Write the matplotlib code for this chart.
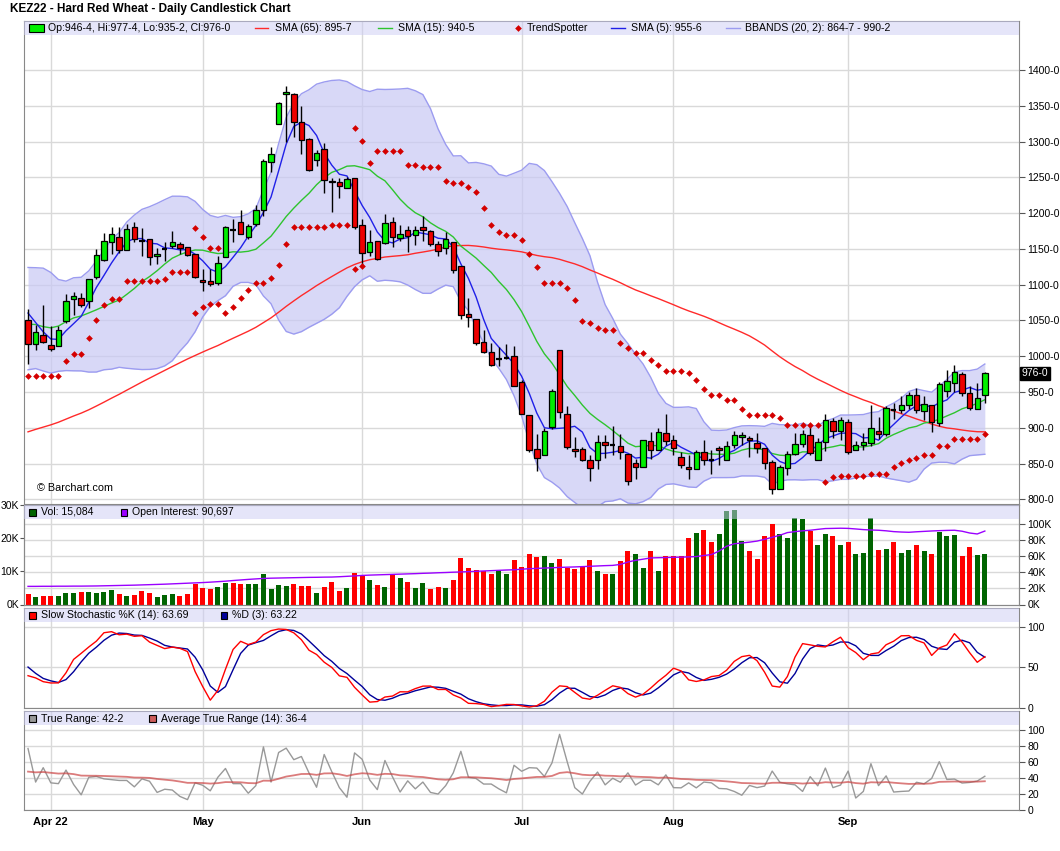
import numpy as np
import pandas as pd
import matplotlib
matplotlib.use("Agg")
import matplotlib.pyplot as plt
from matplotlib.patches import Rectangle
from matplotlib.lines import Line2D
import matplotlib.transforms as mtransforms

plt.rcParams['font.family'] = ['Liberation Sans', 'DejaVu Sans']

# trading days shown (KEZ22, Mar 29 - Sep 28 2022)
holidays = ['2022-04-15', '2022-05-30', '2022-06-20', '2022-07-04', '2022-09-05']
dates = pd.bdate_range('2022-03-29', '2022-09-28', freq='C', holidays=holidays)

open_ = [1051, 1017, 1030, 1016, 1015, 1049, 1080, 1081, 1077, 1111,
         1134, 1160, 1166, 1148, 1180, 1161, 1164, 1140, 1150, 1154,
         1157, 1153, 1143, 1107, 1105, 1102, 1139, 1176, 1187, 1167,
         1185, 1204, 1271.5, 1324.5, 1366.5, 1366, 1327, 1303, 1274, 1289.5,
         1245.5, 1243, 1235, 1249, 1183, 1145, 1160.5, 1158, 1187, 1165,
         1176, 1169.5, 1180.5, 1175.5, 1156.5, 1151, 1159.5, 1125.5, 1059, 1052,
         1020, 1006, 996.5, 998, 1000, 963.5, 918, 870.5, 861.5, 901,
         1008.75, 919.5, 870.5, 870.5, 855, 854.5, 880, 875.75, 874.5, 863.75,
         851, 845.5, 881.5, 868.5, 893, 882.75, 859, 845.5, 842.75, 866,
         854.5, 872, 855.75, 875.75, 887.5, 886, 879, 872, 852.5, 814,
         844.25, 863.75, 877.75, 890.25, 855.75, 880.5, 909.25, 896.25, 908, 868.5,
         875.75, 879, 895.25, 891.5, 925, 925.5, 932.5, 946, 923.75, 931.5,
         907, 952, 962.75, 975.25, 948.75, 926.5, 946.5]
high = [1066, 1044, 1071, 1042, 1043, 1087, 1090, 1088, 1108, 1150,
        1172, 1181, 1181, 1185, 1188, 1179, 1164, 1151, 1159, 1175,
        1160, 1153, 1143, 1122, 1122, 1140, 1182, 1192, 1204, 1185,
        1212, 1275, 1293, 1355, 1377.5, 1367.5, 1350, 1305, 1288.5, 1297.5,
        1249, 1249, 1251, 1249, 1191.5, 1177, 1160.5, 1198.5, 1194, 1183,
        1181.5, 1181.5, 1195.5, 1176.5, 1160.5, 1174, 1159.5, 1125.5, 1081.5, 1052,
        1037, 1018.5, 1012.5, 1017.5, 1014, 967.5, 918, 892, 900, 954.5,
        1008.75, 931, 887.5, 873.5, 861.5, 890.5, 889.5, 902.5, 891.5, 863.75,
        856.75, 882.75, 894, 900, 919.5, 890.75, 866, 862.75, 869.75, 883.75,
        869.75, 874.5, 882.25, 895.25, 894, 888.5, 893, 872, 855.75, 848.75,
        867.5, 893, 896.75, 904.5, 886, 920, 914, 915, 912.5, 881.5,
        893, 932.5, 915.25, 931.25, 935, 944.25, 950.25, 955.75, 944.25, 931.5,
        963.75, 981.5, 988.5, 978, 959, 962.75, 977.5]
low = [989, 1009, 1018, 1008, 1014, 1047, 1058, 1069, 1067, 1108,
       1133, 1143, 1144, 1148, 1159, 1140, 1128, 1129, 1133, 1151,
       1143, 1140, 1109, 1091, 1098, 1099, 1139, 1159, 1171, 1164,
       1182, 1196, 1258, 1324.5, 1300, 1306, 1283, 1258.5, 1266, 1228,
       1201, 1221, 1235, 1177.5, 1128, 1139.5, 1135, 1157.5, 1152.5, 1160.5,
       1145, 1155, 1160.5, 1154.5, 1140.5, 1143.5, 1117, 1052, 1040.5, 1015.5,
       1004.5, 986, 986, 996, 958, 919, 866, 839.5, 861.5, 898.5,
       914, 870.5, 859.5, 853.5, 825.5, 843, 858, 862.75, 856.75, 820,
       828, 845.5, 856.75, 868.5, 875.5, 862.75, 844.25, 828.75, 842.75, 848.75,
       835.75, 847.5, 855.75, 872, 875.5, 859.5, 865, 842, 807, 814,
       834.75, 861.5, 873.5, 862.75, 855.75, 867.5, 886, 883.75, 863.75, 868.5,
       869.75, 874.5, 884.75, 888.5, 912.5, 921, 926.5, 921, 911.5, 894,
       903.25, 943.25, 949.75, 944.25, 924.5, 926.5, 935.25]
close = [1017, 1034, 1020, 1010, 1037, 1077, 1084, 1071, 1108, 1141,
         1161, 1171, 1148, 1178, 1164, 1161, 1139, 1143, 1150, 1160,
         1151, 1141, 1111, 1104, 1101, 1130, 1180.5, 1176, 1171, 1181.5,
         1204, 1272.5, 1283, 1353.5, 1369, 1327, 1302, 1260, 1284, 1246,
         1243, 1238.5, 1248, 1180, 1144, 1159, 1136.5, 1186, 1166.5, 1171,
         1168.5, 1176, 1176.5, 1156.5, 1147, 1163.5, 1120.5, 1057.5, 1055, 1018.5,
         1006, 988, 996.5, 998, 959, 919, 869.5, 858, 895.5, 952,
         922.25, 873.5, 868, 855, 844, 880, 875.5, 875.75, 866.5, 825.5,
         845.5, 882.75, 868.5, 894, 881.5, 872, 848.75, 842, 866, 854.5,
         854.5, 869.75, 874.5, 889.75, 890.25, 882.75, 872, 851, 814, 845.5,
         863.75, 877.75, 891.5, 865, 880, 910.75, 896.25, 910.75, 866.5, 875.75,
         880.5, 900, 891.5, 927.5, 925, 931.5, 946, 925.5, 933.5, 908.75,
         961.5, 966, 978, 948.75, 928, 942.25, 976]

# closes before the window (Dec-Mar), estimated so the indicators start where the chart does
prior_close = [810, 815, 805, 800, 795, 800, 810, 805, 800, 810, 805,
               800, 805, 795, 790, 785, 790, 800, 810, 805, 800, 795, 790, 800,
               840, 845, 850, 855, 860, 850, 845, 850, 845,
               835, 830, 820, 815, 825, 830, 835, 840,
               860, 870, 900,
               970, 1020, 1060, 1100, 1110, 1090, 1040, 1065, 1035, 1000,
               985, 1005, 1030, 1045, 1075, 1090, 1100, 1085, 1060, 1040]
prior_high = [985, 1030, 1070, 1110, 1140, 1150, 1090, 1080, 1070, 1040,
              1010, 1015, 1040, 1055, 1085, 1100, 1120, 1100, 1090, 1065]
prior_low = [930, 975, 1020, 1060, 1085, 1080, 1035, 1025, 1030, 995,
             978, 982, 998, 1020, 1040, 1065, 1080, 1072, 1050, 1032]

volume_k = [3.1, 2.2, 2.5, 2.5, 2.5, 3.4, 3.4, 3.7, 3.7, 3.4,
            3.7, 4.3, 3.1, 2.5, 2.8, 4.0, 3.4, 2.2, 2.8, 3.1,
            2.5, 3.1, 6.1, 4.9, 4.6, 5.2, 6.4, 6.4, 6.1, 6.1,
            6.1, 9.1, 4.6, 5.8, 5.5, 6.1, 5.5, 5.5, 3.4, 5.2,
            6.7, 4.0, 4.9, 9.4, 8.8, 7.3, 5.8, 5.2, 9.1, 7.9,
            6.7, 4.9, 6.4, 4.6, 5.2, 4.9, 7.3, 13.9, 10.9, 10.3,
            10.0, 9.1, 10.0, 9.1, 13.4, 11.4, 15.3, 14.2, 14.7, 12.6,
            13.8, 11.1, 10.8, 11.7, 13.5, 10.1, 9.2, 9.2, 13.2, 16.2,
            15.3, 11.1, 16.2, 10.1, 14.7, 14.7, 14.7, 19.9, 21.4, 22.3,
            18.9, 21.1, 28.2, 28.5, 19.2, 16.2, 13.8, 20.5, 24.1, 21.1,
            19.9, 25.9, 25.6, 22.0, 18.0, 21.1, 20.5, 18.0, 18.9, 15.3,
            15.6, 25.9, 16.5, 16.8, 18.9, 15.6, 16.5, 18.0, 16.2, 15.3,
            21.7, 20.5, 20.8, 14.7, 17.4, 15.0, 15.084]
open_interest_k = [22.4, 22.4, 22.5, 22.5, 22.6, 22.6, 22.7, 22.7, 22.8, 22.9,
                   23.1, 23.3, 23.5, 23.7, 23.9, 24.2, 24.5,
                   24.8, 25.1, 25.5, 25.9, 26.3, 26.7, 27.1,
                   27.6, 28.2, 28.8, 29.6, 30.3, 31.0, 31.6, 32.2,
                   32.5, 32.7, 32.9, 33.1, 33.3, 33.5, 33.6, 33.8, 33.9,
                   34.3, 34.8, 35.3, 35.9, 36.3, 36.6, 36.9, 37.2, 37.5,
                   37.8, 38.1, 38.5, 38.8, 39.2, 39.5, 39.9, 40.2,
                   40.6, 41.0, 41.4, 41.8, 42.2, 42.6, 42.9,
                   43.6, 44.2, 44.6, 45.0, 45.4, 45.8, 46.1,
                   46.4, 46.8, 47.2, 47.6, 48.0, 48.3, 49.5,
                   52.5, 54.5, 56.0, 57.5, 57.8, 58.0, 58.3,
                   58.5, 58.8, 59.2, 60.5, 61.7, 66.0,
                   72.0, 75.0, 76.0, 77.0, 78.3, 80.5, 83.0,
                   85.5, 88.8, 90.0, 91.0, 91.7, 92.8, 93.8,
                   94.0, 94.2, 94.0, 93.3, 92.5, 92.0, 91.7,
                   91.0, 90.0, 89.5, 89.2, 89.8, 90.3, 90.8,
                   91.2, 91.5, 91.7, 90.5, 88.3, 87.1, 90.7]

trendspotter = [973, 973, 973, 973, 973, 993, 1003.5, 1003.5, 1025.5, 1051,
                1071.5, 1080, 1080, 1105.5, 1105.5, 1105.5, 1105.5, 1105.5, 1108, 1117.5,
                1117.5, 1117.5, 1060.5, 1069.5, 1073, 1073, 1060.5, 1069.5, 1081.5, 1093,
                1102.5, 1102.5, 1109.5, 1128, 1157.5, 1180.5, 1180.5, 1180.5, 1180.5, 1180.5,
                1183.5, 1183.5, 1183.5, 1318.5, 1301, 1270, 1287, 1287, 1287, 1287,
                1267, 1267, 1264, 1264, 1264, 1245.5, 1242, 1242, 1236.5, 1230,
                1207, 1183, 1173.5, 1169.5, 1169.5, 1162.5, 1143, 1124.5, 1103, 1103,
                1103, 1095.5, 1078.5, 1049.5, 1046.5, 1039.5, 1036.5, 1036.5, 1018.5, 1011.5,
                1004.5, 1004.5, 995.5, 988.5, 979.5, 979.5, 979.5, 976.5, 967.5, 954.5,
                946, 946, 939.5, 939.5, 926.5, 918, 918, 918, 918, 914,
                904, 904, 904, 904, 904, 824.5, 832, 833.5, 833.5, 833.5,
                833.5, 835.75, 835.75, 835.75, 846, 851.25, 855.5, 858.5, 862.25, 862.25,
                875, 875, 884.5, 884.5, 884.5, 884.5, 891.5]
# days with a second TrendSpotter dot
ts_extra_dates = ['2022-04-29', '2022-05-02', '2022-05-03', '2022-05-04', '2022-05-31', '2022-06-01']
ts_extra_vals = [1179, 1166.5, 1151, 1151, 1122, 1125.5]

n = len(close)
x = np.arange(n)
O = np.array(open_); Hh = np.array(high); L = np.array(low); C = np.array(close)

# indicators
allc = pd.Series(prior_close + close, dtype=float)
sma65 = allc.rolling(65).mean().to_numpy()[-n:]
sma15 = allc.rolling(15).mean().to_numpy()[-n:]
sma5 = allc.rolling(5).mean().to_numpy()[-n:]
mid = allc.rolling(20).mean()
sd = allc.rolling(20).std(ddof=0)
bb_up = (mid + 2 * sd).to_numpy()[-n:]
bb_lo = (mid - 2 * sd).to_numpy()[-n:]

hh = pd.Series(prior_high + high, dtype=float)
ll = pd.Series(prior_low + low, dtype=float)
cc = pd.Series(prior_close[-len(prior_high):] + close, dtype=float)
fast_k = 100 * (cc - ll.rolling(14).min()) / (hh.rolling(14).max() - ll.rolling(14).min())
slow_k = fast_k.rolling(3).mean()
slow_d = slow_k.rolling(3).mean()
prev = cc.shift(1)
tr = pd.concat([hh, prev], axis=1).max(axis=1) - pd.concat([ll, prev], axis=1).min(axis=1)
atr = tr.iloc[1:].ewm(alpha=1 / 14, adjust=False).mean()
stoch_k = slow_k.to_numpy()[-n:]
stoch_d = slow_d.to_numpy()[-n:]
true_range = tr.to_numpy()[-n:]
avg_tr = atr.to_numpy()[-n:]
up_day = cc.diff().to_numpy()[-n:] > 0

# layout in pixels
W, H = 1060, 851
fig = plt.figure(figsize=(W / 100, H / 100), dpi=100)


def box(left, top, right, bottom):
    return [left / W, 1 - bottom / H, (right - left) / W, (bottom - top) / H]


def px(xp, yp):
    return xp / W, 1 - yp / H


ax = fig.add_axes(box(24, 20.5, 1019, 503.5))
axv = fig.add_axes(box(24, 504.5, 1019, 604.5), sharex=ax)
axs = fig.add_axes(box(24, 607.5, 1019, 707.5), sharex=ax)
axt = fig.add_axes(box(24, 710.5, 1019, 810), sharex=ax)

grid_c = '#d9d9d9'
spine_c = '#888888'
band_c = '#cdcdf5'
ts_c = '#d40000'
month_idx = [i for i in range(1, n) if dates[i].month != dates[i - 1].month]
month_lbl = ['Apr 22' if dates[i].month == 4 else dates[i].strftime('%b') for i in month_idx]

for a in (ax, axv, axs, axt):
    for s in a.spines.values():
        s.set_color(spine_c)
    a.set_xticks(month_idx)
    a.xaxis.grid(True, color=grid_c, lw=1, zorder=0)
    a.tick_params(axis='x', length=0, labelbottom=False)
    a.set_axisbelow(True)
ax.set_xlim(-0.53, 130.5)

# ---- price panel
ax.fill_between(x, bb_lo, bb_up, color='#c8c8f5', alpha=0.7, lw=0, zorder=1)
ax.plot(x, bb_up, color='#9c9cf0', lw=1, zorder=1.5)
ax.plot(x, bb_lo, color='#9c9cf0', lw=1, zorder=1.5)
ax.plot(x, sma65, color='#ff2a2a', lw=1, zorder=2)
ax.plot(x, sma15, color='#2ec42e', lw=1, zorder=2)
ax.plot(x, sma5, color='#2020e8', lw=1, zorder=2)

ax.vlines(x, L, Hh, color='black', lw=1, zorder=3)
body_col = np.where(C > O, '#00ee00', '#ee0000')
moving = C != O
ax.bar(x[moving], np.abs(C - O)[moving], bottom=np.minimum(O, C)[moving], width=0.72,
       color=body_col[moving], edgecolor='black', linewidth=0.9, zorder=4)
ax.hlines(C[~moving], x[~moving] - 0.36, x[~moving] + 0.36, color='black', lw=1.6, zorder=4)

ax.plot(x, trendspotter, ls='none', marker='D', ms=3.4, mew=0, color=ts_c, zorder=5)
extra_x = [dates.get_loc(pd.Timestamp(d)) for d in ts_extra_dates]
ax.plot(extra_x, ts_extra_vals, ls='none', marker='D', ms=3.4, mew=0, color=ts_c, zorder=5)

ax.set_ylim(794.4, 1469)
pticks = np.arange(800, 1401, 50)
ax.set_yticks(pticks)
ax.set_yticklabels([f'{int(t)}-0' for t in pticks])
ax.yaxis.tick_right()
ax.tick_params(axis='y', length=4, color='#555555', labelsize=7.5, pad=2)
ax.yaxis.grid(True, color=grid_c, lw=1, zorder=0)
ax.add_patch(Rectangle((0, 1 - 14.5 / 483), 1, 14.5 / 483, transform=ax.transAxes,
                       fc=band_c, alpha=0.5, lw=0, zorder=6))
trans = mtransforms.blended_transform_factory(ax.transAxes, ax.transData)
ax.text(1.003, C[-1], '976-0', transform=trans, va='center', ha='left', color='white',
        fontsize=7.5, zorder=10, clip_on=False,
        bbox=dict(boxstyle='square,pad=0.18', fc='black', ec='black'))
fig.text(*px(37, 488), '\u00a9 Barchart.com', fontsize=7.8, va='center')

# ---- volume / open interest panel
vol_col = np.where(up_day, '#006400', '#ff0000')
axv.bar(x, np.array(volume_k) * 1000, width=0.66, color=vol_col, zorder=2)
axv.set_ylim(0, 30000)
axv.set_yticks([0, 10000, 20000, 30000])
axv.set_yticklabels(['0K', '10K', '20K', '30K'])
axv.tick_params(axis='y', length=3, color='#555555', labelsize=7.5, pad=0.5)
oi_top = 123500
for t in range(20000, 100001, 20000):
    axv.axhline(t * 30000 / oi_top, color=grid_c, lw=1, zorder=0)
axo = axv.twinx()
axo.plot(x, np.array(open_interest_k) * 1000, color='#9a00ff', lw=1, zorder=3)
axo.set_ylim(0, oi_top)
axo.set_yticks(range(0, 100001, 20000))
axo.set_yticklabels([f'{t // 1000}K' for t in range(0, 100001, 20000)])
axo.tick_params(axis='y', length=4, color='#555555', labelsize=7.5, pad=2)
for s in axo.spines.values():
    s.set_color(spine_c)
axo.add_patch(Rectangle((0, 1 - 14.5 / 100), 1, 14.5 / 100, transform=axo.transAxes,
                        fc=band_c, alpha=0.5, lw=0, zorder=6))

# ---- stochastic panel
axs.plot(x, stoch_k, color='#ff0000', lw=1, zorder=3)
axs.plot(x, stoch_d, color='#000099', lw=1, zorder=2)
axs.set_ylim(0, 124.5)
axs.set_yticks([0, 50, 100])
axs.yaxis.tick_right()
axs.tick_params(axis='y', length=4, color='#555555', labelsize=7.5, pad=2)
axs.yaxis.grid(True, color=grid_c, lw=1, zorder=0)
axs.add_patch(Rectangle((0, 1 - 14.5 / 100), 1, 14.5 / 100, transform=axs.transAxes,
                        fc=band_c, alpha=0.5, lw=0, zorder=6))

# ---- true range panel
axt.plot(x, true_range, color='#999999', lw=1, zorder=2)
axt.plot(x, avg_tr, color='#cc4444', lw=1.3, alpha=0.7, zorder=3)
axt.set_ylim(0, 124.6)
axt.set_yticks(range(0, 101, 20))
axt.yaxis.tick_right()
axt.tick_params(axis='y', length=4, color='#555555', labelsize=7.5, pad=2)
axt.yaxis.grid(True, color=grid_c, lw=1, zorder=0)
axt.add_patch(Rectangle((0, 1 - 14 / 99.5), 1, 14 / 99.5, transform=axt.transAxes,
                        fc=band_c, alpha=0.5, lw=0, zorder=6))
axt.set_xticklabels(month_lbl)
axt.tick_params(axis='x', labelbottom=True, labelsize=8, pad=5)
for lab in axt.get_xticklabels():
    lab.set_fontweight('bold')

# ---- title and legends
fig.text(*px(10, 9), 'KEZ22 - Hard Red Wheat - Daily Candlestick Chart',
         fontsize=8.5, fontweight='bold', va='center')


def leg_box(xp, yp, color, w=6.7, h=7):
    fig.add_artist(Rectangle(px(xp, yp + h / 2), w / W, h / H, transform=fig.transFigure,
                             fc=color, ec='black', lw=0.8))


def leg_line(x0, x1, yp, color):
    fig.add_artist(Line2D([x0 / W, x1 / W], [1 - yp / H] * 2, transform=fig.transFigure,
                          color=color, lw=1))


def leg_text(xp, yp, s):
    fig.text(*px(xp, yp), s, fontsize=7.6, va='center', ha='left')


ym = 28
leg_box(29.3, ym, '#00ee00', w=14.7)
leg_text(48.5, ym, 'Op:946-4, Hi:977-4, Lo:935-2, Cl:976-0')
leg_line(255, 268, ym, '#ff2a2a')
leg_text(275, ym, 'SMA (65): 895-7')
leg_line(378, 392, ym, '#2ec42e')
leg_text(398, ym, 'SMA (15): 940-5')
fig.add_artist(Line2D([518 / W], [1 - ym / H], transform=fig.transFigure, ls='none',
                      marker='D', ms=3.4, mew=0, color=ts_c))
leg_text(527, ym, 'TrendSpotter')
leg_line(611, 625, ym, '#2020e8')
leg_text(631, ym, 'SMA (5): 955-6')
leg_line(726, 740, ym, '#9c9cf0')
leg_text(745, ym, 'BBANDS (20, 2): 864-7 - 990-2')

yv = 512
leg_box(29.3, yv, '#006400')
leg_text(41, yv, 'Vol: 15,084')
leg_box(120.5, yv, '#9a00ff')
leg_text(132, yv, 'Open Interest: 90,697')

ys = 615.5
leg_box(29.3, ys, '#ff0000')
leg_text(41, ys, 'Slow Stochastic %K (14): 63.69')
leg_box(220.7, ys, '#000099')
leg_text(232.3, ys, '%D (3): 63.22')

yt = 718.5
leg_box(29.3, yt, '#999999')
leg_text(41, yt, 'True Range: 42-2')
leg_box(149, yt, '#cd5c5c')
leg_text(161.3, yt, 'Average True Range (14): 36-4')

fig.savefig('out.png', dpi=100)
